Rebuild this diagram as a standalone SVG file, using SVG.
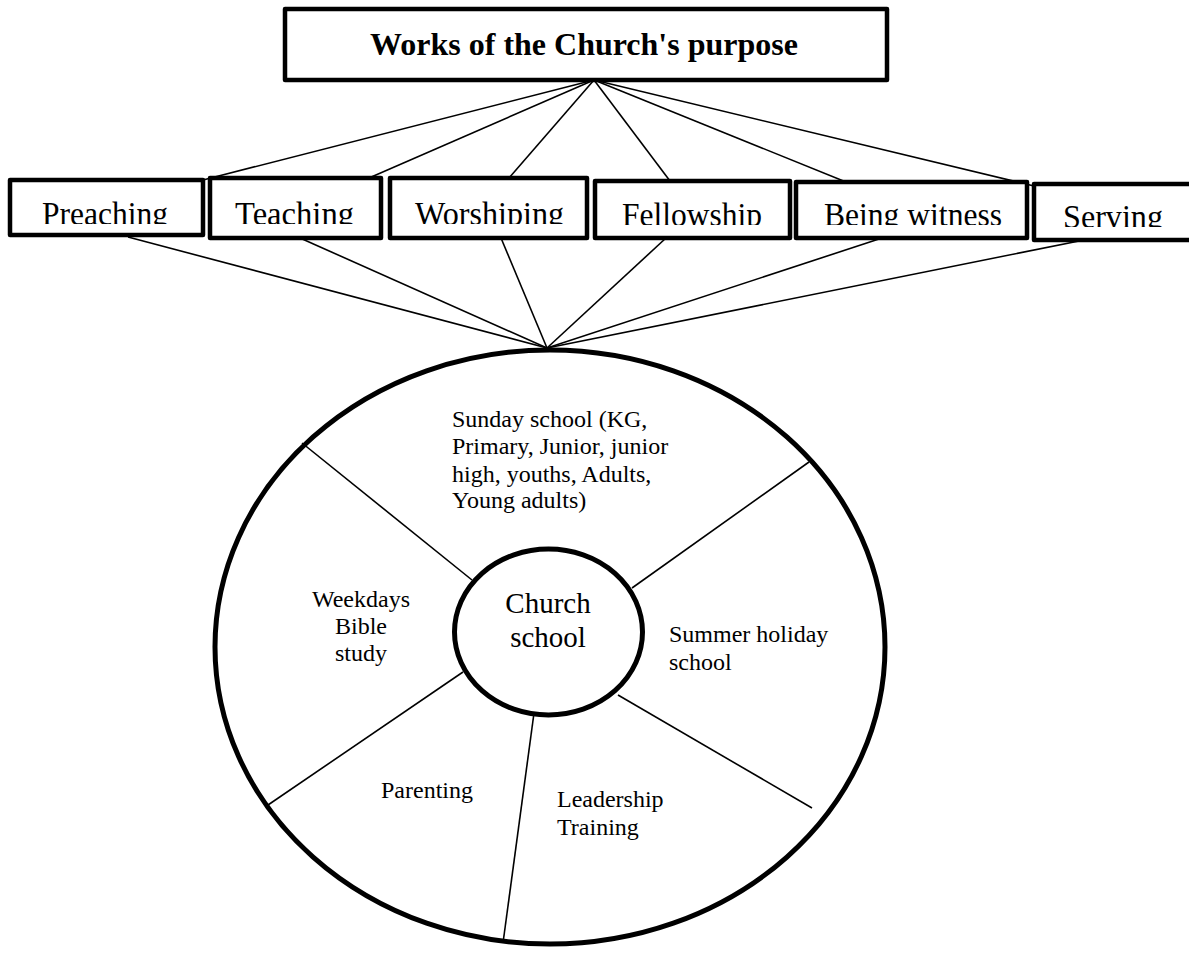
<svg xmlns="http://www.w3.org/2000/svg" width="1189" height="953" viewBox="0 0 1189 953">
<style>
.box{fill:#fff;stroke:#000;stroke-width:4.5;stroke-linejoin:round}
.ln{stroke:#000;stroke-width:1.6;fill:none}
.ring{fill:#fff;stroke:#000;stroke-width:5}
.bt{font-family:"Liberation Serif","Times New Roman",serif;font-size:34px;fill:#000}
.st{font-family:"Liberation Serif","Times New Roman",serif;font-size:24px;fill:#000}
.title{font-family:"Liberation Serif","Times New Roman",serif;font-size:32px;font-weight:bold;fill:#000}
</style>
<defs>
<clipPath id="c1"><rect x="0" y="170" width="1189" height="54"/></clipPath>
<clipPath id="c2"><rect x="0" y="170" width="1189" height="55"/></clipPath>
<clipPath id="c3"><rect x="0" y="170" width="1189" height="57"/></clipPath>
</defs>
<rect width="1189" height="953" fill="#fff"/>

<g id="connectors">
<line class="ln" x1="594" y1="80" x2="203" y2="180"/>
<line class="ln" x1="594" y1="80" x2="369" y2="178"/>
<line class="ln" x1="594" y1="80" x2="509" y2="178"/>
<line class="ln" x1="594" y1="80" x2="670" y2="181"/>
<line class="ln" x1="594" y1="80" x2="846" y2="182"/>
<line class="ln" x1="594" y1="80" x2="1034" y2="186"/>
<line class="ln" x1="128" y1="237" x2="547" y2="348"/>
<line class="ln" x1="300" y1="238" x2="547" y2="348"/>
<line class="ln" x1="501" y1="238" x2="547" y2="348"/>
<line class="ln" x1="666" y1="238" x2="547" y2="348"/>
<line class="ln" x1="882" y1="238" x2="547" y2="348"/>
<line class="ln" x1="1089" y1="239" x2="547" y2="348"/>
</g>

<g id="title">
<rect class="box" x="285" y="9" width="602" height="71"/>
<text class="title" x="584" y="55" text-anchor="middle">Works of the Church's purpose</text>
</g>

<g id="preaching">
<rect class="box" x="10" y="180" width="193" height="55"/>
<text class="bt" x="42" y="225" textLength="126" lengthAdjust="spacingAndGlyphs" clip-path="url(#c1)">Preaching</text>
</g>
<g id="teaching">
<rect class="box" x="210" y="178" width="171" height="60"/>
<text class="bt" x="235" y="225" textLength="119" lengthAdjust="spacingAndGlyphs" clip-path="url(#c1)">Teaching</text>
</g>
<g id="worshiping">
<rect class="box" x="390" y="178" width="197" height="60"/>
<text class="bt" x="415" y="225" textLength="149" lengthAdjust="spacingAndGlyphs" clip-path="url(#c1)">Worshiping</text>
</g>
<g id="fellowship">
<rect class="box" x="595" y="181" width="195" height="57"/>
<text class="bt" x="622" y="226" textLength="140" lengthAdjust="spacingAndGlyphs" clip-path="url(#c2)">Fellowship</text>
</g>
<g id="being-witness">
<rect class="box" x="796" y="182" width="231" height="56"/>
<text class="bt" x="824" y="226" textLength="178" lengthAdjust="spacingAndGlyphs" clip-path="url(#c2)">Being witness</text>
</g>
<g id="serving">
<rect class="box" x="1034" y="184" width="165" height="56"/>
<text class="bt" x="1063" y="228" textLength="100" lengthAdjust="spacingAndGlyphs" clip-path="url(#c3)">Serving</text>
</g>

<g id="church-school-wheel">
<ellipse class="ring" cx="550" cy="647" rx="335" ry="297"/>
<line class="ln" x1="302" y1="443" x2="472" y2="580"/>
<line class="ln" x1="809" y1="462" x2="632" y2="588"/>
<line class="ln" x1="268" y1="805" x2="463" y2="672"/>
<line class="ln" x1="503" y1="943" x2="534" y2="713"/>
<line class="ln" x1="812" y1="808" x2="618" y2="695"/>
</g>

<g id="sunday-school">
<text class="st" x="452" y="427">Sunday school (KG,</text>
<text class="st" x="452" y="454">Primary, Junior, junior</text>
<text class="st" x="452" y="482">high, youths, Adults,</text>
<text class="st" x="452" y="508">Young adults)</text>
</g>
<g id="weekdays">
<text class="st" x="361" y="607" text-anchor="middle">Weekdays</text>
<text class="st" x="361" y="634" text-anchor="middle">Bible</text>
<text class="st" x="361" y="661" text-anchor="middle">study</text>
</g>
<g id="summer">
<text class="st" x="669" y="642">Summer holiday</text>
<text class="st" x="669" y="670">school</text>
</g>
<g id="parenting">
<text class="st" x="381" y="798">Parenting</text>
</g>
<g id="leadership">
<text class="st" x="557" y="807">Leadership</text>
<text class="st" x="557" y="835">Training</text>
</g>
<g id="church-school">
<ellipse class="ring" cx="548.5" cy="632" rx="94" ry="83"/>
<text x="548" y="613" text-anchor="middle" style="font-family:'Liberation Serif','Times New Roman',serif;font-size:29px">Church</text>
<text x="548" y="647" text-anchor="middle" style="font-family:'Liberation Serif','Times New Roman',serif;font-size:29px">school</text>
</g>
</svg>
